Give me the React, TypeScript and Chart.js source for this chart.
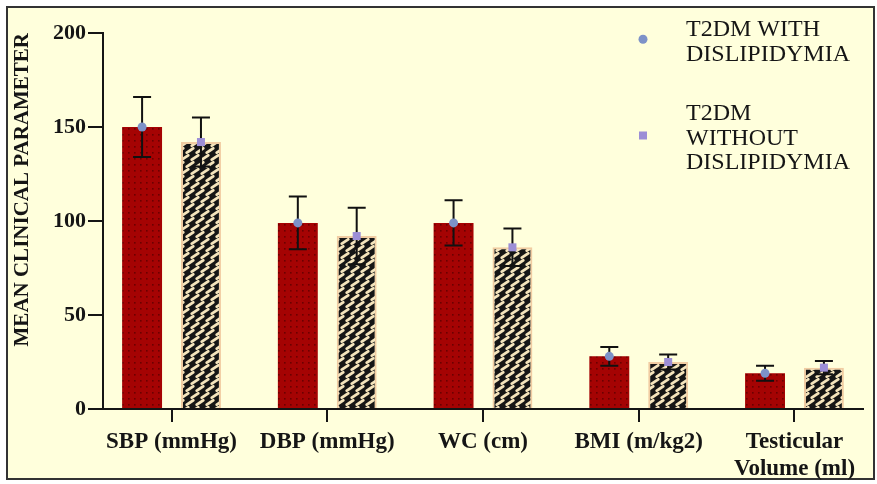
import React, { useEffect, useRef } from 'react';
import { Chart, registerables } from 'chart.js';

Chart.register(...registerables);

// ---- data ----
const CATEGORIES: string[][] = [
  ['SBP (mmHg)'],
  ['DBP (mmHg)'],
  ['WC (cm)'],
  ['BMI (m/kg2)'],
  ['Testicular', 'Volume (ml)'],
];
const WITH_MEAN = [150, 99, 99, 28, 19];
const WITH_SD = [16, 14, 12, 5, 4];
const WITHOUT_MEAN = [142, 92, 86, 25, 22];
const WITHOUT_SD = [13, 15, 10, 4, 3.5];
const SERIES_LABELS: string[][] = [
  ['T2DM WITH', 'DISLIPIDYMIA'],
  ['T2DM', 'WITHOUT', 'DISLIPIDYMIA'],
];
const Y_MIN = 0;
const Y_MAX = 200;
const Y_STEP = 50;
const Y_TITLE = 'MEAN CLINICAL PARAMETER';

const FONT = '"Liberation Serif", "Times New Roman", serif';
const MARKER_COLORS = ['#7D92C8', '#9C8ED6'];

function makeDotPattern(ctx: CanvasRenderingContext2D) {
  const c = document.createElement('canvas');
  c.width = 6;
  c.height = 6;
  const g = c.getContext('2d')!;
  g.fillStyle = '#A50303';
  g.fillRect(0, 0, 6, 6);
  g.fillStyle = '#6C0000';
  g.fillRect(2, 2, 1.6, 1.6);
  return ctx.createPattern(c, 'repeat')!;
}

function makeWeavePattern(ctx: CanvasRenderingContext2D) {
  const w = 10, h = 14;
  const c = document.createElement('canvas');
  c.width = w;
  c.height = h;
  const g = c.getContext('2d')!;
  g.fillStyle = '#161616';
  g.fillRect(0, 0, w, h);
  g.strokeStyle = '#F4E4BC';
  g.lineWidth = 2.8;
  g.lineCap = 'round';
  const dash = (cx: number, cy: number) => {
    g.beginPath();
    g.moveTo(cx - 3.2, cy + 2.2);
    g.lineTo(cx + 3.2, cy - 2.2);
    g.stroke();
  };
  dash(5, 3.5);
  dash(0, 10.5);
  dash(10, 10.5);
  return ctx.createPattern(c, 'repeat')!;
}

const SDS = [WITH_SD, WITHOUT_SD];

function drawMarker(ctx: CanvasRenderingContext2D, di: number, x: number, y: number) {
  ctx.fillStyle = MARKER_COLORS[di];
  if (di === 0) {
    ctx.beginPath();
    ctx.arc(x, y, 4.5, 0, Math.PI * 2);
    ctx.fill();
  } else {
    ctx.fillRect(x - 4, y - 4, 8, 8);
  }
}

const errorBarPlugin = {
  id: 'errorBars',
  afterDatasetsDraw(chart: any) {
    const ctx = chart.ctx as CanvasRenderingContext2D;
    const y = chart.scales.y;
    ctx.save();
    [0, 1].forEach((di) => {
      const meta = chart.getDatasetMeta(di);
      const ds = chart.data.datasets[di];
      meta.data.forEach((el: any, j: number) => {
        const mean = ds.data[j].y;
        const sd = SDS[di][j];
        const x = el.x;
        const yt = y.getPixelForValue(mean + sd);
        const yb = y.getPixelForValue(mean - sd);
        ctx.strokeStyle = '#111';
        ctx.lineWidth = 2;
        ctx.beginPath();
        ctx.moveTo(x, yt);
        ctx.lineTo(x, yb);
        ctx.moveTo(x - 9, yt);
        ctx.lineTo(x + 9, yt);
        ctx.moveTo(x - 9, yb);
        ctx.lineTo(x + 9, yb);
        ctx.stroke();
      });
    });
    [0, 1].forEach((di) => {
      const meta = chart.getDatasetMeta(di);
      meta.data.forEach((el: any) => {
        drawMarker(ctx, di, el.x, el.y);
      });
    });
    ctx.restore();
  },
};

const legendPlugin = {
  id: 'customLegend',
  afterDraw(chart: any) {
    const ctx = chart.ctx as CanvasRenderingContext2D;
    ctx.save();
    ctx.font = `24px ${FONT}`;
    ctx.textBaseline = 'alphabetic';
    ctx.textAlign = 'left';
    const lineH = 24.5;
    const blocks = [{ top: 17 }, { top: 101 }];
    SERIES_LABELS.forEach((lines, i) => {
      const top = blocks[i].top;
      ctx.fillStyle = '#151515';
      lines.forEach((t, k) => {
        ctx.fillText(t, 686, top + 19 + k * lineH);
      });
      const h = (lines.length - 1) * lineH + 19;
      drawMarker(ctx, i, 643, top + h / 2 + 0.5);
    });
    ctx.restore();
  },
};

export default function App() {
  const ref = useRef<HTMLCanvasElement>(null);
  useEffect(() => {
    const canvas = ref.current!;
    const ctx = canvas.getContext('2d')!;
    Chart.defaults.font.family = FONT;
    const chart = new Chart(canvas, {
      type: 'bar',
      data: {
        datasets: [
          {
            label: SERIES_LABELS[0].join(' '),
            data: WITH_MEAN.map((v, i) => ({ x: i, y: v })),
            backgroundColor: makeDotPattern(ctx),
            borderWidth: 0,
          },
          {
            label: SERIES_LABELS[1].join(' '),
            data: WITHOUT_MEAN.map((v, i) => ({ x: i, y: v })),
            backgroundColor: makeWeavePattern(ctx),
            borderColor: '#F1CCA2',
            borderWidth: { left: 2, right: 2, top: 2, bottom: 0 },
          },
        ] as any,
      },
      options: {
        animation: false,
        responsive: false,
        maintainAspectRatio: false,
        events: [],
        categoryPercentage: 0.756,
        barPercentage: 0.678,
        layout: { padding: { top: 33, right: 14, left: 0, bottom: 0 } },
        plugins: { legend: { display: false }, tooltip: { enabled: false } },
        scales: {
          x: {
            type: 'linear',
            min: -0.44,
            max: 4.44,
            offset: false,
            afterBuildTicks: (s: any) => {
              s.ticks = CATEGORIES.map((_, i) => ({ value: i }));
            },
            afterFit: (s: any) => {
              s.height = 75;
            },
            ticks: {
              callback: (v: any) => CATEGORIES[v as number],
              font: { size: 23, weight: 'bold', lineHeight: 1.2 },
              color: '#151515',
              padding: 6,
              maxRotation: 0,
              autoSkip: false,
            },
            grid: {
              offset: false,
              drawOnChartArea: false,
              drawTicks: true,
              tickLength: 13,
              color: '#151515',
              lineWidth: 2,
            },
            border: { display: true, color: '#151515', width: 2 },
          },
          y: {
            min: Y_MIN,
            max: Y_MAX,
            afterFit: (s: any) => {
              s.width = 103;
            },
            ticks: {
              stepSize: Y_STEP,
              font: { size: 22, weight: 'bold' },
              color: '#151515',
              padding: 2,
            },
            grid: {
              drawOnChartArea: false,
              drawTicks: true,
              tickLength: 15,
              color: '#151515',
              lineWidth: 2,
            },
            border: { display: true, color: '#151515', width: 2 },
            title: {
              display: true,
              text: Y_TITLE,
              align: 'end',
              font: { size: 21, weight: 'bold', lineHeight: 1.2 },
              color: '#151515',
              padding: { top: 10, bottom: 0 },
            },
          },
        },
      } as any,
      plugins: [errorBarPlugin, legendPlugin],
    });
    return () => chart.destroy();
  }, []);

  return (
    <div style={{ position: 'fixed', left: 0, top: 0, width: 877, height: 484, background: '#ffffff', overflow: 'hidden' }}>
      <div
        style={{
          position: 'absolute',
          left: 6,
          top: 6,
          width: 869,
          height: 474,
          boxSizing: 'border-box',
          border: '2px solid #333',
          background: '#FFFFDC',
        }}
      />
      <canvas ref={ref} width={877} height={484} style={{ position: 'absolute', left: 0, top: 0, width: 877, height: 484 }} />
    </div>
  );
}
